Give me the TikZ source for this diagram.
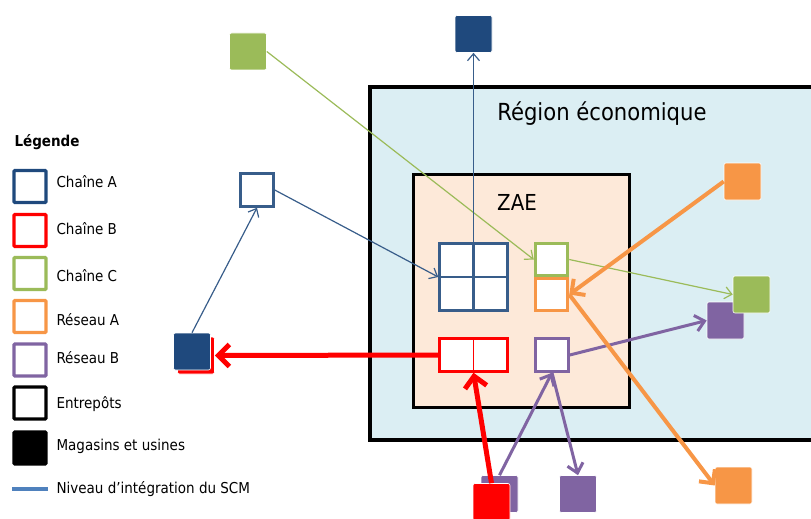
\documentclass[tikz,border=0pt]{standalone}
\usepackage{fontspec}
\setmainfont{DejaVu Sans Condensed}
\usepackage{xcolor}
\usetikzlibrary{arrows.meta,positioning}

\definecolor{navy}{HTML}{1F497D}
\definecolor{steel}{HTML}{385D8A}
\definecolor{leaf}{HTML}{9BBB59}
\definecolor{tang}{HTML}{F79646}
\definecolor{plum}{HTML}{8064A2}
\definecolor{sky}{HTML}{DBEEF3}
\definecolor{peach}{HTML}{FDE9D9}
\definecolor{link}{HTML}{4F81BD}

\begin{document}
\begin{tikzpicture}[x=1pt,y=-1pt,every node/.style={font=\fontsize{15}{17}\selectfont},
  hub/.style={draw,line width=3pt,fill=white,minimum size=32.5pt,inner sep=0pt},
  site/.style={draw=white,line width=.6pt,rounded corners=2pt,minimum size=37pt,inner sep=0pt},
  key/.style={draw,line width=3.2pt,fill=white,minimum size=32pt,inner sep=0pt,rounded corners=1pt},
  keytext/.style={anchor=west},
  thin/.style={line width=1.2pt,-{Straight Barb[length=7pt,width=12pt]}},
  redflow/.style={line width=5pt,red,-{Straight Barb[length=11pt,width=22pt]}},
  plumflow/.style={line width=3pt,plum,-{Straight Barb[length=9pt,width=16pt]}},
  tangflow/.style={line width=4pt,tang,-{Straight Barb[length=10pt,width=20pt]}}]
  \useasboundingbox (0,0) rectangle (811,519);
  % zones
  \draw[line width=4.5pt,fill=sky] (370,87) rectangle (830,440);
  \node[font=\fontsize{23.5}{26}\selectfont] (region) at (602,114) {Région économique};
  \draw[line width=3pt,fill=peach] (413,174) rectangle (629,407);
  \node[font=\fontsize{22}{25}\selectfont] (zae) at (517,202) {ZAE};
  % entrepots dans la ZAE
  \node[hub,draw=steel,minimum size=67.5pt] (grid) at (473.5,277) {};
  \draw[steel,line width=2.4pt] (grid.north) -- (grid.south) (grid.west) -- (grid.east);
  \node[hub,draw=leaf] (greenW) at (551.5,259.5) {};
  \node[hub,draw=tang] (orangeW) at (551.5,294.5) {};
  \node[hub,draw=red,minimum width=67.5pt] (redW) at (473.5,355) {};
  \draw[red,line width=1.6pt] (redW.north) -- (redW.south);
  \node[hub,draw=plum] (purpleW) at (552,355) {};
  % entrepot hors zone
  \node[hub,draw=steel] (blueO) at (257,190) {};
  % magasins et usines
  \node[site,fill=leaf] (greenTL) at (248,51.5) {};
  \node[site,fill=navy] (navyT) at (473.5,34) {};
  \node[site,fill=red] (redL) at (196,355.5) {};
  \node[site,fill=navy] (navyL) at (192,351.5) {};
  \node[site,fill=tang] (orangeT) at (742.5,181.5) {};
  \node[site,fill=plum] (purpleR) at (725.5,320.5) {};
  \node[site,fill=leaf] (greenR) at (751.5,294.5) {};
  \node[site,fill=plum] (purpleD) at (578,494) {};
  \node[site,fill=tang] (orangeB) at (733.5,485.5) {};
  \node[site,fill=plum] (purpleB) at (499.5,494) {};
  \node[site,fill=red] (redB) at (491.5,502) {};
  % flux
  \draw[thin,leaf] (greenTL.east) -- (greenW.west);
  \draw[thin,steel] (grid.north) -- (navyT.south);
  \draw[thin,steel] (blueO.east) -- (grid.west);
  \draw[thin,steel] (navyL.north) -- (blueO.south);
  \draw[thin,leaf] (greenW.east) -- (greenR.west);
  \draw[redflow] (redW.west) -- (redL.east);
  \draw[redflow] (redB.north) -- (redW.south);
  \draw[plumflow] (purpleB.north) -- (purpleW.south);
  \draw[plumflow] (purpleW.south) -- (purpleD.north);
  \draw[plumflow] (purpleW.east) -- (purpleR.west);
  \draw[tangflow] (orangeT.west) -- (orangeW.east);
  \draw[tangflow] (orangeW.east) -- (orangeB.west);
  % legende
  \node[anchor=west,font=\bfseries\fontsize{15}{17}\selectfont] (title) at (11,142) {Légende};
  \node[key,draw=navy] (kA) at (30,186.5) {};
  \node[keytext] at (53,182) {Chaîne A};
  \node[key,draw=red] (kB) at (30,230.5) {};
  \node[keytext] at (53,229) {Chaîne B};
  \node[key,draw=leaf] (kC) at (30,273.5) {};
  \node[keytext] at (53,276) {Chaîne C};
  \node[key,draw=tang] (kD) at (30,316.5) {};
  \node[keytext] at (53,320) {Réseau A};
  \node[key,draw=plum] (kE) at (30,360) {};
  \node[keytext] at (53,358) {Réseau B};
  \node[key,draw=black] (kF) at (30,403) {};
  \node[keytext] at (53,404) {Entrepôts};
  \node[key,draw=black,fill=black] (kG) at (30,448) {};
  \node[keytext] at (53,446) {Magasins et usines};
  \coordinate (lineA) at (12,489);
  \coordinate (lineB) at (48,489);
  \draw[link,line width=4pt] (lineA) -- (lineB);
  \node[keytext] at (53,489) {Niveau d’intégration du SCM};
\end{tikzpicture}
\end{document}
